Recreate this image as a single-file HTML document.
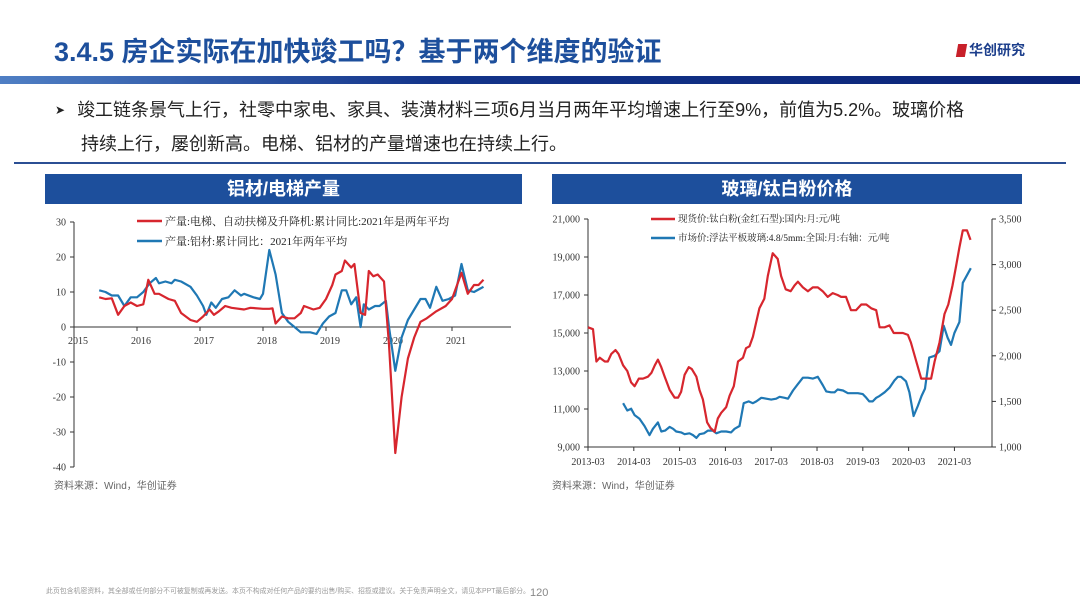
<!DOCTYPE html>
<html><head><meta charset="utf-8">
<style>
body{margin:0;width:1080px;height:608px;overflow:hidden;background:#fff;font-family:"Liberation Sans","Noto Sans CJK SC",sans-serif;position:relative}
.abs{position:absolute}
</style></head><body>
<div class="abs" style="left:54px;top:30px;font-size:27px;font-weight:bold;color:#1d4f9c;letter-spacing:0px;white-space:nowrap">3.4.5 房企实际在加快竣工吗？基于两个维度的验证</div>
<div class="abs" style="left:957px;top:40px;font-size:14px;font-weight:bold;color:#1d3f8c"><span style="display:inline-block;width:9px;height:13px;background:#c8202a;transform:skewX(-10deg);margin-right:3px;vertical-align:-2px"></span>华创研究</div>
<div class="abs" style="left:0;top:76px;width:1080px;height:8px;background:linear-gradient(90deg,#4f7fc4,#13348a 40%,#0b2478)"></div>
<div class="abs" style="left:55px;top:93px;font-size:18px;color:#222;line-height:34px;width:1020px;white-space:nowrap">
<span style="font-size:12px;margin-right:12px;vertical-align:2px">➤</span>竣工链条景气上行，社零中家电、家具、装潢材料三项6月当月两年平均增速上行至9%，前值为5.2%。玻璃价格<br><span style="margin-left:26px">持续上行，屡创新高。电梯、铝材的产量增速也在持续上行。</span></div>
<div class="abs" style="left:14px;top:162px;width:1052px;height:2px;background:#2b4f94"></div>
<div class="abs" style="left:45px;top:174px;width:477px;height:30px;background:#1d4f9c;color:#fff;font-size:18px;font-weight:bold;text-align:center;line-height:30px">铝材/电梯产量</div>
<div class="abs" style="left:552px;top:174px;width:470px;height:30px;background:#1d4f9c;color:#fff;font-size:18px;font-weight:bold;text-align:center;line-height:30px">玻璃/钛白粉价格</div>
<div class="abs" style="left:54px;top:477px;font-size:10px;color:#666">资料来源：Wind，华创证券</div>
<div class="abs" style="left:552px;top:477px;font-size:10px;color:#666">资料来源：Wind，华创证券</div>
<div class="abs" style="left:46px;top:585px;font-size:6.9px;color:#999;white-space:nowrap">此页包含机密资料，其全部或任何部分不可被复制或再发送。本页不构成对任何产品的要约出售/购买、招揽或建议。关于免责声明全文，请见本PPT最后部分。</div>
<div class="abs" style="left:530px;top:587px;font-size:11px;color:#888">120</div>
<svg id="svg" class="abs" style="left:0;top:0" width="1080" height="608"></svg>
<script>
// Left chart data (year decimal, %)
const elevYears=[2015.4,2015.5,2015.6,2015.7,2015.8,2015.9,2016.0,2016.1,2016.18,2016.28,2016.35,2016.5,2016.6,2016.7,2016.85,2016.95,2017.05,2017.15,2017.22,2017.3,2017.4,2017.5,2017.7,2017.8,2018.0,2018.1,2018.15,2018.2,2018.3,2018.4,2018.5,2018.6,2018.65,2018.8,2018.9,2019.0,2019.1,2019.15,2019.25,2019.3,2019.4,2019.45,2019.55,2019.62,2019.68,2019.75,2019.82,2019.92,2020.0,2020.1,2020.2,2020.3,2020.4,2020.5,2020.6,2020.75,2020.9,2021.0,2021.15,2021.25,2021.35,2021.42,2021.5];
const elevVals=[8.5,8,8.2,3.5,6,7,6,6.5,13.5,9.5,9.5,8,7.5,4,2,1.5,3,5,3.5,4.5,6,5.5,5,5.5,5.2,5.2,5.3,1,3,2.5,2.5,4,6,5,5.5,8,12,15,16,19,17,18,4,3.5,16,14.5,15,13,-5,-36,-20,-9,-3,1.5,2.5,4.5,6,8,15.5,9.5,12,12,13.5];
const aluYears=[2015.4,2015.5,2015.6,2015.7,2015.8,2015.9,2016.0,2016.1,2016.2,2016.3,2016.35,2016.45,2016.55,2016.6,2016.7,2016.85,2016.95,2017.05,2017.1,2017.18,2017.25,2017.35,2017.45,2017.55,2017.65,2017.7,2017.85,2017.95,2018.0,2018.1,2018.2,2018.3,2018.4,2018.5,2018.6,2018.75,2018.85,2018.95,2019.05,2019.15,2019.25,2019.32,2019.4,2019.48,2019.55,2019.6,2019.68,2019.78,2019.85,2019.95,2020.0,2020.1,2020.2,2020.3,2020.4,2020.5,2020.58,2020.65,2020.75,2020.85,2020.95,2021.05,2021.15,2021.25,2021.35,2021.45,2021.5];
const aluVals=[10.5,10,9,9,6,8.5,8.5,10,12.5,14,12.5,13,12.5,13.5,13,11.5,9,6,3.5,7,5.5,8,8.5,10.5,9,9.5,8.5,8,9.5,22,15,4,1.5,0,-1.5,-1.5,-2,1,3,4,10.5,10.5,6.5,8.5,0,6.5,5,6,6,7.5,0,-12.5,-3,2,5,8,8,5.5,11.5,7.5,8,9,18,10.5,10,11,11.5];
const leftYTicks=[30,20,10,0,-10,-20,-30,-40];
const leftXTicks=[2015,2016,2017,2018,2019,2020,2021];
// Right chart data (months since 2013-03)
const tioMonths=[0,1.3,2.2,3.1,4.4,5.2,6.1,7.2,8.0,9.2,10.3,11.3,12.2,13.3,14.4,15.7,16.6,17.5,18.3,19.2,20.1,21.4,22.7,23.6,24.4,25.3,26.4,27.2,28.4,29.2,30.1,31.2,32.1,33.2,34.0,34.9,36.2,37.1,38.2,39.3,40.6,41.4,42.3,43.2,44.0,44.9,46.2,47.1,48.4,49.7,50.6,51.8,53.1,54.1,55.0,56.3,57.6,58.9,60.2,61.5,62.8,64.1,65.4,66.3,67.6,68.9,70.2,71.6,72.9,74.2,75.5,76.4,77.7,79.0,80.1,81.2,82.5,83.8,84.6,86.0,87.3,88.6,89.9,90.8,92.1,93.4,94.4,95.5,96.4,97.3,98.2,99.3,100.2];
const tioVals=[15300,15200,13500,13700,13500,13500,13900,14100,13900,13300,13000,12400,12200,12600,12600,12700,12900,13300,13600,13200,12700,12000,11600,11600,11900,12800,13200,13100,12700,12000,11500,10300,10000,9800,10500,10800,11100,11700,12200,13500,13700,14200,14300,14800,15500,16300,16800,18000,19200,18900,18000,17300,17200,17500,17700,17400,17200,17400,17400,17200,16900,17100,17000,16900,16900,16200,16200,16500,16500,16300,16200,15300,15300,15400,15000,15000,15000,14900,14500,13500,12600,12600,12600,13500,14500,16000,16500,17500,18500,19500,20400,20400,19900];
const glassMonths=[9.2,10.3,11.3,12.2,13.5,14.8,16.1,17.0,18.3,19.2,20.2,21.4,22.3,23.1,24.4,25.3,26.6,27.5,28.4,29.2,30.4,31.4,32.7,33.6,34.9,36.2,37.5,38.4,39.7,40.8,42.1,43.2,44.1,45.4,46.7,48.0,49.3,50.2,51.5,52.4,53.7,55.0,56.3,57.6,58.9,60.2,61.5,62.4,63.7,64.6,65.4,66.8,68.1,69.4,70.7,72.0,72.9,73.7,74.6,75.5,76.4,77.7,79.0,80.3,81.2,82.0,83.3,84.2,85.3,86.4,87.4,88.3,89.4,90.8,92.1,93.2,94.2,95.1,96.0,97.3,98.2,99.5,100.3];
const glassVals=[1480,1400,1420,1350,1310,1230,1130,1200,1270,1170,1180,1220,1200,1170,1160,1140,1150,1130,1100,1140,1150,1180,1180,1150,1170,1170,1160,1200,1230,1480,1500,1480,1500,1540,1530,1520,1530,1550,1540,1530,1620,1690,1760,1760,1750,1770,1680,1610,1600,1600,1630,1620,1590,1590,1590,1580,1540,1500,1500,1540,1560,1600,1650,1730,1770,1770,1720,1600,1340,1450,1560,1640,1980,2000,2050,2330,2200,2120,2250,2370,2800,2900,2960];
const rightLTicks=[21000,19000,17000,15000,13000,11000,9000];
const rightRTicks=[3500,3000,2500,2000,1500,1000];
const rightXLabels=["2013-03","2014-03","2015-03","2016-03","2017-03","2018-03","2019-03","2020-03","2021-03"];
const rightXMonths=[0,12,24,36,48,60,72,84,96];

const svg=document.getElementById('svg');const NS='http://www.w3.org/2000/svg';
function mk(tag,attrs,parent){const e=document.createElementNS(NS,tag);for(const k in attrs)e.setAttribute(k,attrs[k]);(parent||svg).appendChild(e);return e;}
function txt(x,y,s,anchor,size,fill){const t=mk('text',{x:x,y:y,'text-anchor':anchor,'font-size':size,fill:fill||'#333','font-family':'"Liberation Serif","Noto Serif CJK SC",serif'});t.textContent=s;return t;}
// LEFT
const lx=y=>74+(y-2015)*63, ly=v=>327-v*3.5;
let e=mk('line',{x1:74,y1:ly(30),x2:74,y2:ly(-40),stroke:'#333','stroke-width':1});


e=mk('line',{x1:74,y1:ly(0),x2:511,y2:ly(0),stroke:'#333','stroke-width':1});


leftYTicks.forEach(v=>{mk('line',{x1:70,y1:ly(v),x2:74,y2:ly(v),stroke:'#333'});
 const t=txt(66,ly(v)+3.5,String(v),'end',10);
 
 });
leftXTicks.forEach(v=>{mk('line',{x1:lx(v),y1:ly(0),x2:lx(v),y2:ly(0)+4,stroke:'#333'});
 const t=txt(lx(v)+4,ly(0)+17,String(v),'middle',10);
 
 });
function line(xs,ys,fx,fy,color,name){const d=xs.map((x,i)=>(i?'L':'M')+fx(x).toFixed(1)+','+fy(ys[i]).toFixed(1)).join('');
 const p=mk('path',{d:d,fill:'none',stroke:color,'stroke-width':2.2,'stroke-linejoin':'round'});
 
 }
line(aluYears,aluVals,lx,ly,'#1f78b4','aluminum-line');
line(elevYears,elevVals,lx,ly,'#d7262e','elevator-line');
mk('line',{x1:137,y1:221,x2:162,y2:221,stroke:'#d7262e','stroke-width':2.5});
e=txt(165,225,'产量:电梯、自动扶梯及升降机:累计同比:2021年是两年平均','start',11,'#222');


mk('line',{x1:137,y1:241,x2:162,y2:241,stroke:'#1f78b4','stroke-width':2.5});
e=txt(165,245,'产量:铝材:累计同比：2021年两年平均','start',11,'#222');


// RIGHT
const rx=m=>588+m*3.817, ryl=v=>447-(v-9000)*228/12000, ryr=v=>447-(v-1000)*228/2500;
e=mk('line',{x1:588,y1:219,x2:588,y2:447,stroke:'#333'});


e=mk('line',{x1:992,y1:219,x2:992,y2:447,stroke:'#333'});


e=mk('line',{x1:588,y1:447,x2:992,y2:447,stroke:'#333'});


rightLTicks.forEach(v=>{mk('line',{x1:584,y1:ryl(v),x2:588,y2:ryl(v),stroke:'#333'});
 const t=txt(580,ryl(v)+3.5,v.toLocaleString('en-US'),'end',10);
 
 });
rightRTicks.forEach(v=>{mk('line',{x1:992,y1:ryr(v),x2:996,y2:ryr(v),stroke:'#333'});
 const t=txt(999,ryr(v)+3.5,v.toLocaleString('en-US'),'start',10);
 
 });
rightXLabels.forEach((s,i)=>{const x=rx(rightXMonths[i]);mk('line',{x1:x,y1:447,x2:x,y2:451,stroke:'#333'});
 const t=txt(x,465,s,'middle',10);
 
 });
line(glassMonths,glassVals,rx,ryr,'#1f78b4','glass-price-line');
line(tioMonths,tioVals,rx,ryl,'#d7262e','titanium-price-line');
mk('line',{x1:651,y1:219,x2:675,y2:219,stroke:'#d7262e','stroke-width':2.5});
e=txt(678,222,'现货价:钛白粉(金红石型):国内:月:元/吨','start',9.5,'#222');


mk('line',{x1:651,y1:238,x2:675,y2:238,stroke:'#1f78b4','stroke-width':2.5});
e=txt(678,241,'市场价:浮法平板玻璃:4.8/5mm:全国:月:右轴：元/吨','start',9.5,'#222');


</script>
</body></html>
